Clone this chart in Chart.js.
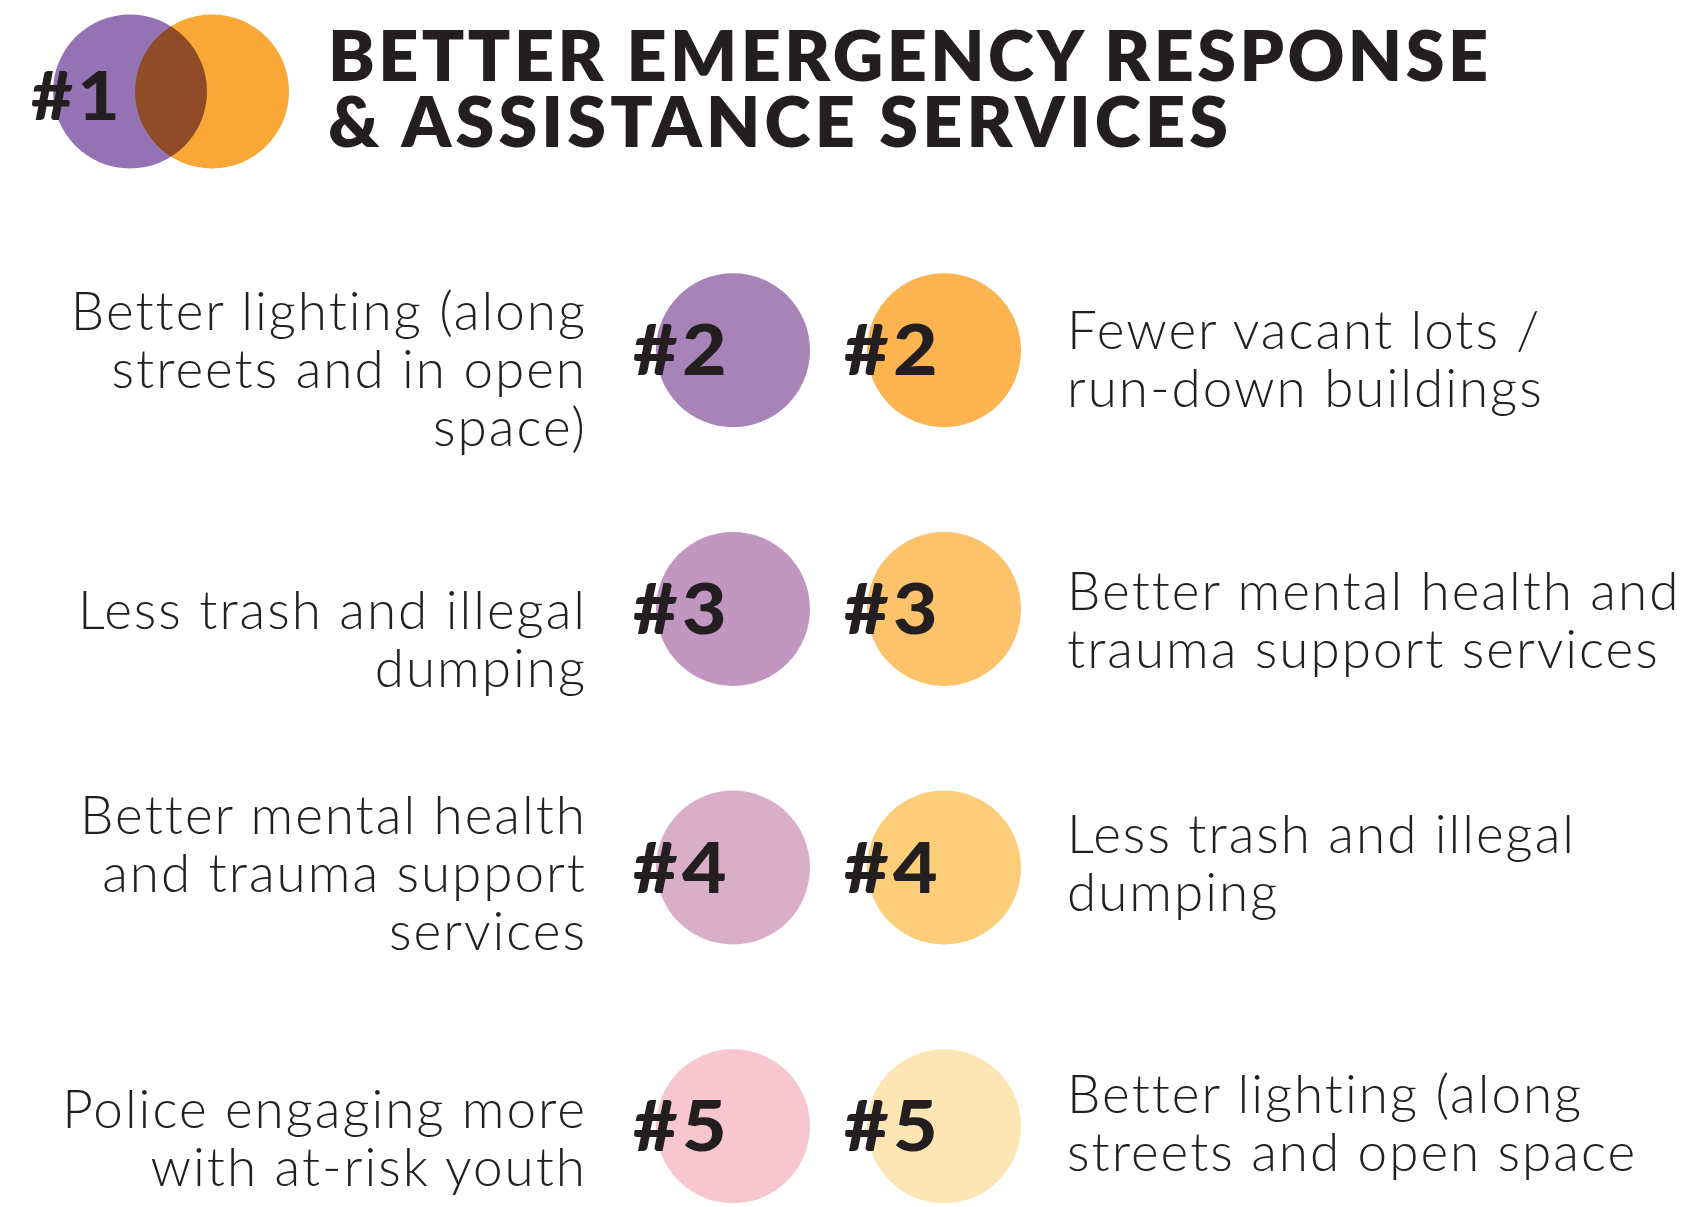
<!DOCTYPE html>
<html lang="en">
<head>
    <meta charset="UTF-8">
    <title>Top Safety Priorities</title>
    <script src="https://cdn.jsdelivr.net/npm/chart.js"></script>
    <style>
        html, body {
            margin: 0;
            padding: 0;
            background: #ffffff;
        }
        #wrap {
            position: relative;
            width: 1685px;
            height: 1207px;
            overflow: hidden;
        }
        #chart {
            position: absolute;
            left: 0;
            top: 0;
        }
        .title {
            position: absolute;
            left: 328px;
            font-family: Lato, "Open Sans", sans-serif;
            font-weight: 800;
            font-size: 70px;
            line-height: 66px;
            color: #231f20;
            white-space: nowrap;
        }
        .rank {
            position: absolute;
            font-family: Lato, "DejaVu Sans", sans-serif;
            font-weight: 900;
            font-size: 70px;
            line-height: 68px;
            letter-spacing: 4px;
            color: #231f20;
            white-space: nowrap;
            transform: scaleX(1.1);
            transform-origin: left center;
        }
        .item {
            position: absolute;
            font-family: Lato, "Open Sans", sans-serif;
            font-weight: 300;
            font-size: 53px;
            line-height: 58px;
            letter-spacing: 2px;
            color: #231f20;
            white-space: nowrap;
        }
        .item.left {
            text-align: right;
        }
    </style>
</head>
<body>
    <div id="wrap">
        <canvas id="chart" width="1685" height="1207"></canvas>
    </div>
    <script>
        // #1 is shared by both groups, drawn as the overlapping pair at the top
        const topRank = 1;
        const topPriority = ["BETTER EMERGENCY RESPONSE", "& ASSISTANCE SERVICES"];

        const ranks = [2, 3, 4, 5];
        const purpleItems = [
            ["Better lighting (along", "streets and in open", "space)"],
            ["Less trash and illegal", "dumping"],
            ["Better mental health", "and trauma support", "services"],
            ["Police engaging more", "with at-risk youth"]
        ];
        const orangeItems = [
            ["Fewer vacant lots /", "run-down buildings"],
            ["Better mental health and", "trauma support services"],
            ["Less trash and illegal", "dumping"],
            ["Better lighting (along", "streets and open space"]
        ];

        const purpleShades = ["#a783b8", "#c197c2", "#d9aec9", "#f7c6cf"];
        const orangeShades = ["#fbb44f", "#fcc36a", "#fdcd7a", "#fde5b4"];
        const topShades = ["#9373b3", "#f9a737"];

        // layout
        const W = 1685, H = 1207, R = 77;
        const rowStep = 258.7, firstRowY = 91.5;
        const colX = 733, colStep = 211;
        const headX = 130, headStep = 82;
        const leftTextRight = 587, rightTextLeft = 1067;
        const leftBaseline = [-20, 20, -34, 2];
        const rightBaseline = [-1, 1, -15, -13];
        const titleWidths = [1160, 900];

        const wrap = document.getElementById("wrap");

        const addDiv = (cls, html) => {
            const d = document.createElement("div");
            d.className = cls;
            d.innerHTML = html;
            wrap.appendChild(d);
            return d;
        };

        const multiplyPlugin = {
            id: "multiply",
            beforeDatasetDraw(chart, args) {
                if (args.index === 2) {
                    chart.ctx.save();
                    chart.ctx.globalCompositeOperation = "multiply";
                }
            },
            afterDatasetDraw(chart, args) {
                if (args.index === 2) chart.ctx.restore();
            }
        };

        let labelled = false;
        const labelPlugin = {
            id: "labels",
            afterRender(chart) {
                if (labelled) return;
                labelled = true;

                // rank numbers on every circle
                [0, 1].forEach(di => {
                    chart.getDatasetMeta(di).data.forEach((el, i) => {
                        const d = addDiv("rank", "#" + ranks[i]);
                        d.style.left = (el.x - 100) + "px";
                        d.style.top = (el.y - 36) + "px";
                    });
                });
                const head = chart.getDatasetMeta(2).data[0];
                const h = addDiv("rank", "#" + topRank);
                h.style.fontSize = "66px";
                h.style.left = (head.x - 99) + "px";
                h.style.top = (head.y - 31) + "px";

                // descriptions
                chart.getDatasetMeta(0).data.forEach((el, i) => {
                    const d = addDiv("item left", purpleItems[i].join("<br>"));
                    d.style.right = (W - leftTextRight) + "px";
                    d.style.top = (el.y + leftBaseline[i] - 49) + "px";
                });
                chart.getDatasetMeta(1).data.forEach((el, i) => {
                    const d = addDiv("item", orangeItems[i].join("<br>"));
                    d.style.left = rightTextLeft + "px";
                    d.style.top = (el.y + rightBaseline[i] - 49) + "px";
                });

                // title, tracked out to the reference width
                topPriority.forEach((line, i) => {
                    const d = addDiv("title", line);
                    d.style.top = (21 + i * 66) + "px";
                    const w = d.getBoundingClientRect().width;
                    d.style.letterSpacing = ((titleWidths[i] - w) / (line.length - 1)) + "px";
                });
            }
        };

        const dot = {
            pointRadius: R,
            pointHoverRadius: R,
            pointBorderWidth: 0,
            clip: false
        };

        new Chart(document.getElementById("chart"), {
            type: "scatter",
            data: {
                datasets: [
                    Object.assign({
                        label: "Purple group",
                        data: ranks.map(r => ({ x: 0, y: r })),
                        pointBackgroundColor: purpleShades,
                        xAxisID: "x"
                    }, dot),
                    Object.assign({
                        label: "Orange group",
                        data: ranks.map(r => ({ x: 1, y: r })),
                        pointBackgroundColor: orangeShades,
                        xAxisID: "x"
                    }, dot),
                    Object.assign({
                        label: "Shared top priority",
                        data: [{ x: 0, y: topRank }, { x: 1, y: topRank }],
                        pointBackgroundColor: topShades,
                        xAxisID: "xHead"
                    }, dot)
                ]
            },
            options: {
                responsive: false,
                animation: false,
                devicePixelRatio: 1,
                events: [],
                layout: { padding: 0, autoPadding: false },
                plugins: {
                    legend: { display: false },
                    tooltip: { enabled: false }
                },
                scales: {
                    x: {
                        type: "linear",
                        display: false,
                        min: -colX / colStep,
                        max: (W - colX) / colStep
                    },
                    xHead: {
                        type: "linear",
                        axis: "x",
                        display: false,
                        min: -headX / headStep,
                        max: (W - headX) / headStep
                    },
                    y: {
                        type: "linear",
                        display: false,
                        reverse: true,
                        min: 1 - firstRowY / rowStep,
                        max: 1 + (H - firstRowY) / rowStep
                    }
                }
            },
            plugins: [multiplyPlugin, labelPlugin]
        });
    </script>
</body>
</html>
